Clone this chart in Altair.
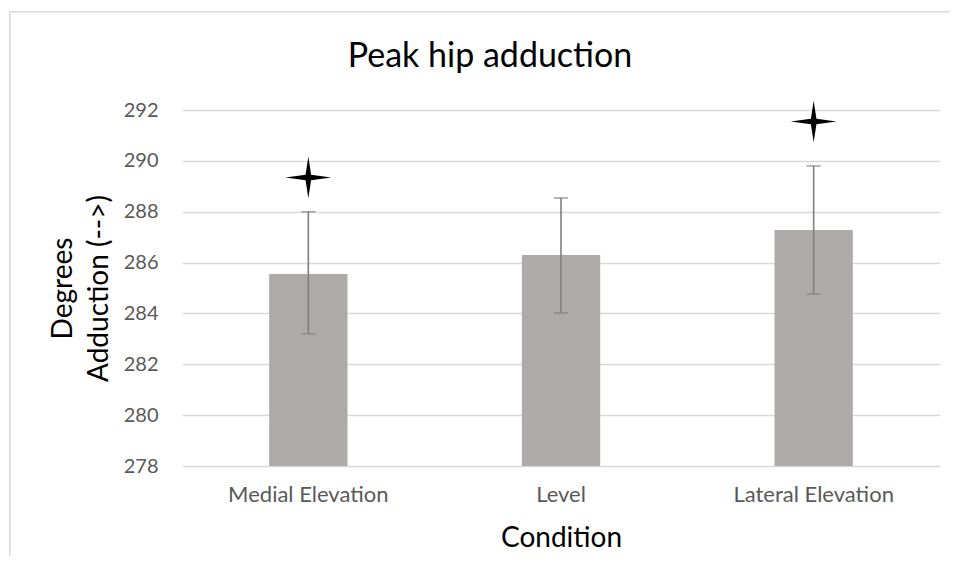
import altair as alt
import pandas as pd

conditions = ["Medial Elevation", "Level", "Lateral Elevation"]
means = [285.55, 286.3, 287.28]
err_lo = [283.2, 284.02, 284.76]
err_hi = [288.0, 288.54, 289.8]
star_cond = ["Medial Elevation", "Lateral Elevation"]
star_y = [289.35, 291.55]
y_ticks = [278, 280, 282, 284, 286, 288, 290, 292]

df = pd.DataFrame({"Condition": conditions, "mean": means, "lo": err_lo, "hi": err_hi})
stars = pd.DataFrame({"Condition": star_cond, "y": star_y})
frame_df = pd.DataFrame({"k": [0]})

FONT = "Lato"
xscale = alt.Scale(domain=conditions, paddingInner=0.69, paddingOuter=0.345)
yscale = alt.Scale(domain=[278, 292], zero=False, nice=False)

x = alt.X("Condition:N", scale=xscale, sort=conditions,
          axis=alt.Axis(title="Condition", labelAngle=0, labelFontSize=22, labelColor="#595959",
                        labelFont=FONT, labelPadding=18, domain=False, ticks=False,
                        titleFont=FONT, titleFontSize=28, titleFontWeight="normal",
                        titleColor="#000000", titlePadding=19))

base = alt.Chart(df)

bars = base.mark_bar(color="#aeaaaa").encode(
    x=x,
    y=alt.Y("mean:Q", scale=yscale,
            axis=alt.Axis(values=y_ticks, title=["Degrees", "Adduction (-->)"],
                          labelFontSize=20, labelColor="#595959", labelFont=FONT,
                          labelPadding=24, domain=False, ticks=False,
                          gridColor="#d9d9d9", gridWidth=1.3,
                          titleFont=FONT, titleFontSize=28, titleFontWeight="normal",
                          titleColor="#000000", titleAngle=-90, titleAlign="center",
                          titleBaseline="top", titleX=-133, titleY=178, titleLineHeight=36)),
    y2=alt.datum(278),
)

rule = base.mark_rule(color="#7f7f7f", strokeWidth=1.6).encode(
    x=alt.X("Condition:N", scale=xscale, sort=conditions),
    y="lo:Q", y2="hi:Q",
)
tick_lo = base.mark_tick(color="#7f7f7f", thickness=1.6, size=14, orient="horizontal").encode(
    x=alt.X("Condition:N", scale=xscale, sort=conditions), y="lo:Q")
tick_hi = base.mark_tick(color="#7f7f7f", thickness=1.6, size=14, orient="horizontal").encode(
    x=alt.X("Condition:N", scale=xscale, sort=conditions), y="hi:Q")

star_path = "M0,-0.91 L0.12,-0.12 L1,0 L0.12,0.12 L0,0.91 L-0.12,0.12 L-1,0 L-0.12,-0.12 Z"
star = alt.Chart(stars).mark_point(shape=star_path, filled=True, color="#000000",
                                   opacity=1, size=2116).encode(
    x=alt.X("Condition:N", scale=xscale, sort=conditions),
    y=alt.Y("y:Q", scale=yscale),
)

# chart frame (top and left edges) as thin filled rects, no stroke
frame_top = alt.Chart(frame_df).mark_rect(fill="#d9d9d9", strokeWidth=0).encode(
    x=alt.value(-172), x2=alt.value(776), y=alt.value(-99), y2=alt.value(-97.5))
frame_left = alt.Chart(frame_df).mark_rect(fill="#d9d9d9", strokeWidth=0).encode(
    x=alt.value(-173), x2=alt.value(-171.5), y=alt.value(-99), y2=alt.value(446))

chart = alt.layer(frame_top, frame_left, bars, rule, tick_lo, tick_hi, star).properties(
    width=758, height=356,
    title=alt.TitleParams("Peak hip adduction", font=FONT, fontSize=34, fontWeight="normal",
                          color="#000000", anchor="middle", dx=-71, offset=0, dy=63),
    autosize=alt.AutoSizeParams(type="none"),
    padding={"left": 174, "top": 102, "right": 10, "bottom": 90},
    background="white",
).configure_view(stroke=None)

chart.save("out.html", embed_options={"renderer": "svg", "actions": False})
